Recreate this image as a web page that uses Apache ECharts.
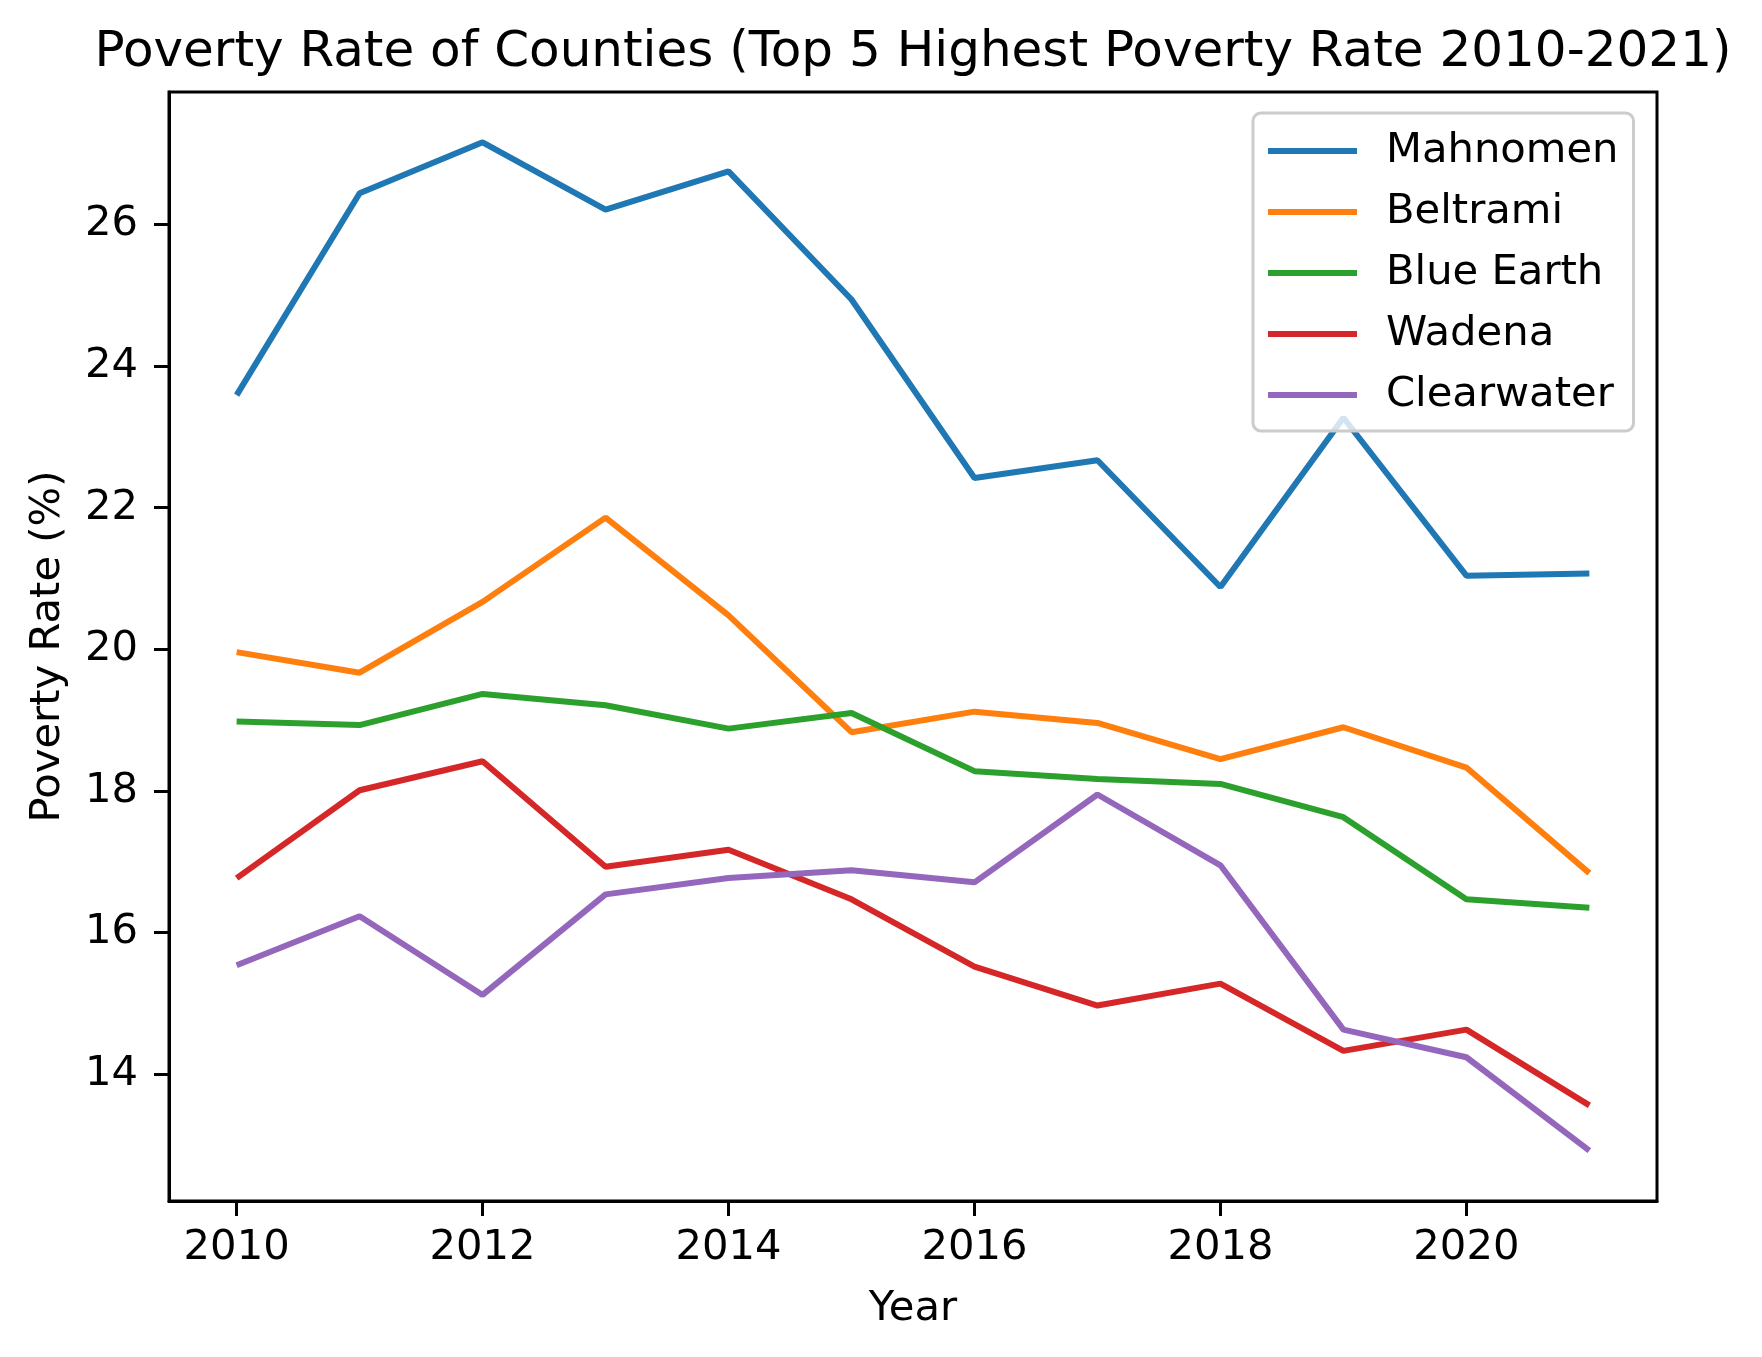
<!DOCTYPE html>
<html>
<head>
<meta charset="utf-8">
<script src="https://cdn.jsdelivr.net/npm/echarts@6/dist/echarts.min.js"></script>
<style>
  html, body { margin: 0; padding: 0; background: #fff; }
  #root { width: 1762px; height: 1357px; }
</style>
</head>
<body>
<div id="root"></div>
<script>
// years on the x axis
var years = [2010, 2011, 2012, 2013, 2014, 2015, 2016, 2017, 2018, 2019, 2020, 2021];
// poverty rate (%) per county
var mahnomen   = [23.59, 26.44, 27.16, 26.21, 26.75, 24.94, 22.42, 22.67, 20.88, 23.27, 21.04, 21.07];
var beltrami   = [19.96, 19.67, 20.67, 21.86, 20.48, 18.83, 19.12, 18.96, 18.45, 18.90, 18.33, 16.84];
var blueEarth  = [18.98, 18.93, 19.37, 19.21, 18.88, 19.10, 18.28, 18.17, 18.10, 17.63, 16.47, 16.35];
var wadena     = [16.77, 18.01, 18.42, 16.93, 17.17, 16.47, 15.52, 14.97, 15.28, 14.33, 14.63, 13.56];
var clearwater = [15.54, 16.23, 15.12, 16.54, 16.77, 16.88, 16.71, 17.95, 16.95, 14.63, 14.24, 12.92];
// tick labels
var xTicks = [2010, 2012, 2014, 2016, 2018, 2020];
var yTicks = [14, 16, 18, 20, 22, 24, 26];

var countyNames = ['Mahnomen', 'Beltrami', 'Blue Earth', 'Wadena', 'Clearwater'];
var countyValues = [mahnomen, beltrami, blueEarth, wadena, clearwater];
var colors = ['#1f77b4', '#ff7f0e', '#2ca02c', '#d62728', '#9467bd'];

var font = 'DejaVu Sans';

function pairs(values) {
  return values.map(function(v, i) {
    return [years[i], v];
  });
}

var option = {
  animation: false,
  backgroundColor: '#ffffff',
  color: colors,
  textStyle: { fontFamily: font },
  title: {
    text: 'Poverty Rate of Counties (Top 5 Highest Poverty Rate 2010-2021)',
    left: 913,
    top: 23,
    padding: 0,
    textAlign: 'center',
    textStyle: {
      fontFamily: font,
      fontSize: 50,
      fontWeight: 'normal',
      color: '#000',
      lineHeight: 60
    }
  },
  grid: {
    left: 169,
    right: 105,
    top: 92,
    bottom: 156,
    show: true,
    borderColor: '#000',
    borderWidth: 3,
    containLabel: false
  },
  legend: {
    orient: 'vertical',
    left: 1253,
    top: 113,
    padding: [10, 15, 8, 15],
    itemGap: 5,
    itemWidth: 89,
    itemHeight: 6,
    icon: 'rect',
    backgroundColor: 'rgba(255,255,255,0.8)',
    borderColor: '#cccccc',
    borderWidth: 3,
    borderRadius: 8,
    data: countyNames,
    textStyle: {
      fontFamily: font,
      fontSize: 41.7,
      color: '#000',
      lineHeight: 56,
      padding: [0, 0, 0, 24]
    }
  },
  xAxis: {
    type: 'value',
    min: 2009.45,
    max: 2021.55,
    name: 'Year',
    nameLocation: 'middle',
    nameGap: 87,
    nameTextStyle: { fontFamily: font, fontSize: 41.7, color: '#000' },
    splitLine: { show: false },
    axisLine: { show: true, lineStyle: { color: '#000', width: 3 } },
    axisTick: {
      show: true,
      inside: false,
      length: 15,
      lineStyle: { color: '#000', width: 3 },
      customValues: xTicks
    },
    axisLabel: {
      fontFamily: font,
      fontSize: 41.7,
      color: '#000',
      margin: 26,
      customValues: xTicks,
      formatter: function(v) { return String(v); }
    }
  },
  yAxis: {
    type: 'value',
    min: 12.21,
    max: 27.87,
    name: 'Poverty Rate (%)',
    nameLocation: 'middle',
    nameGap: 100,
    nameRotate: 90,
    nameTextStyle: { fontFamily: font, fontSize: 41.7, color: '#000' },
    splitLine: { show: false },
    axisLine: { show: true, lineStyle: { color: '#000', width: 3 } },
    axisTick: {
      show: true,
      inside: false,
      length: 15,
      lineStyle: { color: '#000', width: 3 },
      customValues: yTicks
    },
    axisLabel: {
      fontFamily: font,
      fontSize: 41.7,
      color: '#000',
      margin: 31,
      customValues: yTicks
    }
  },
  series: countyNames.map(function(name, i) {
    return {
      name: name,
      type: 'line',
      showSymbol: false,
      symbol: 'none',
      lineStyle: { width: 6, color: colors[i] },
      itemStyle: { color: colors[i] },
      data: pairs(countyValues[i])
    };
  })
};

var myChart = echarts.init(document.getElementById('root'));
myChart.setOption(option);
</script>
</body>
</html>
